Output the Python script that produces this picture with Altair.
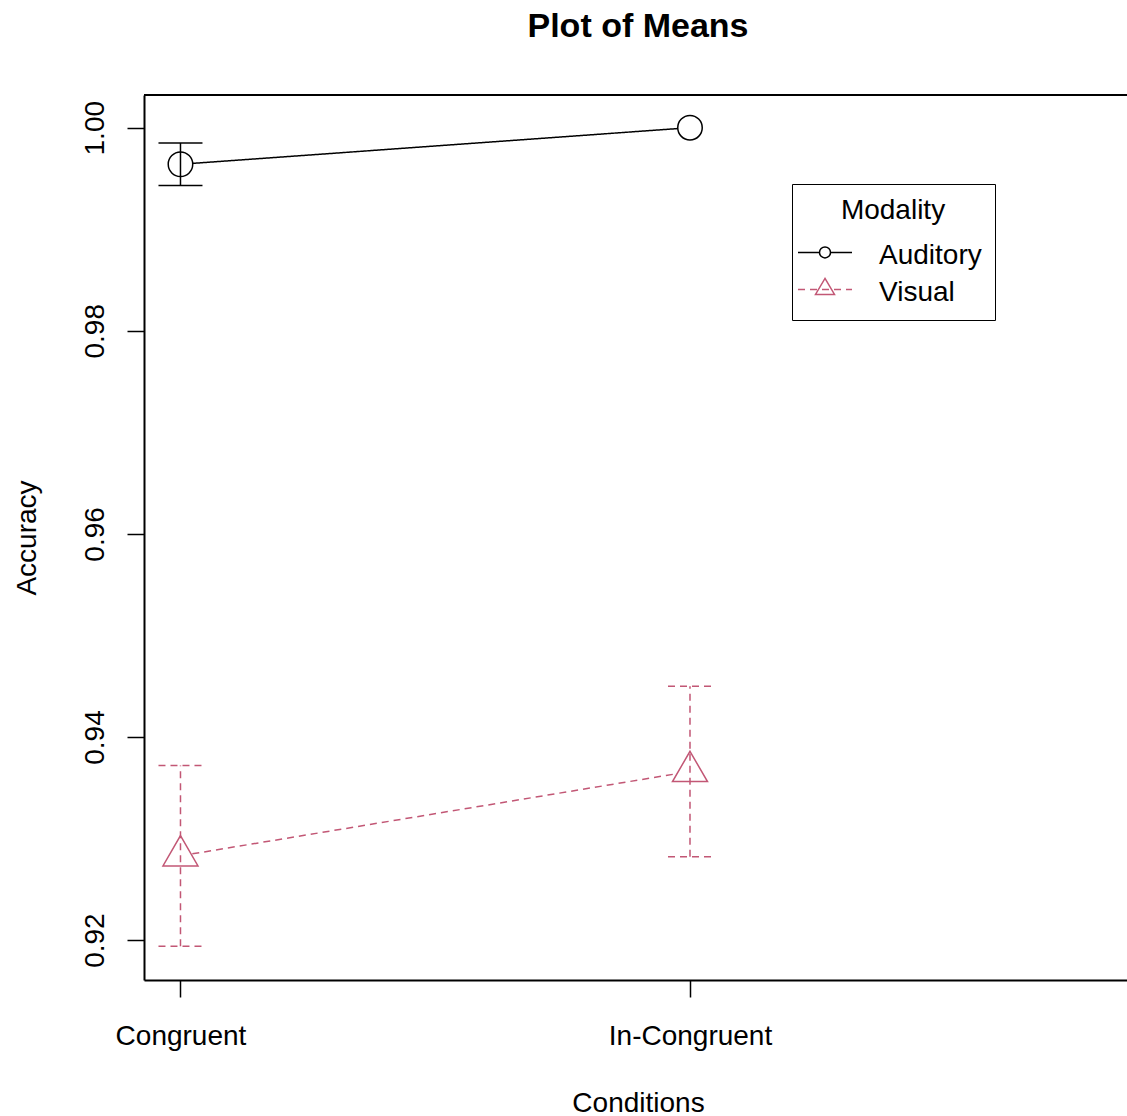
import altair as alt
import pandas as pd

# ---- values ---------------------------------------------------------------
CONDITIONS = ["Congruent", "In-Congruent"]
MODALITIES = ["Auditory", "Visual"]
AUDITORY_MEAN = [0.9964, 1.0000]
AUDITORY_SE = [0.0021, 0.0]
VISUAL_MEAN = [0.9283, 0.9366]
VISUAL_SE = [0.0089, 0.0084]
Y_TICKS = [0.92, 0.94, 0.96, 0.98, 1.00]

# ---- styling --------------------------------------------------------------
FONT = "Liberation Sans"
PINK = "#C25775"
PLOT_W, PLOT_H = 983, 885
X_RANGE = [0.9284, 2.8577]
Y_RANGE = [0.91607, 1.00322]

rows = []
for mod, means, ses in [(MODALITIES[0], AUDITORY_MEAN, AUDITORY_SE),
                        (MODALITIES[1], VISUAL_MEAN, VISUAL_SE)]:
    for i, (cond, mu, se) in enumerate(zip(CONDITIONS, means, ses)):
        rows.append({"Modality": mod, "Condition": cond, "pos": i + 1,
                     "mean": mu, "lo": mu - se, "hi": mu + se})
df = pd.DataFrame(rows)

# marker shapes (triangle centred on its centroid, like R's pch 2)
TRI_MARK = "M0,-1.65L1.429,0.825L-1.429,0.825Z"

# legend keys: line with symbol, in units of sqrt(symbolSize)/2
KEY_A = ("M-5.4,-0.72H-1.1M1.1,-0.72H5.4"
         "M1.1,-0.72A1.1,1.1 0 1,1 -1.1,-0.72A1.1,1.1 0 1,1 1.1,-0.72")
KEY_V = ("M-5.4,-0.72H-4.0M-3.0,-0.72H-1.6M-0.6,-0.72H0.8M1.8,-0.72H3.2M4.2,-0.72H5.4"
         "M0,-2.92L1.9,0.28L-1.9,0.28Z")

legend = alt.Legend(
    title="Modality", orient="none", legendX=648, legendY=89,
    padding=13, strokeColor="black",
    titleFont=FONT, titleFontSize=28, titleFontWeight="normal",
    titleColor="black", titleAnchor="middle", titlePadding=17,
    labelFont=FONT, labelFontSize=28, labelColor="black",
    labelOffset=40, symbolOffset=6, symbolSize=100, symbolStrokeWidth=1.5,
    symbolFillColor="transparent", rowPadding=5,
    symbolType=alt.ExprRef(
        expr=f"datum.value === '{MODALITIES[0]}' ? '{KEY_A}' : '{KEY_V}'"),
)

color = alt.Color("Modality:N", scale=alt.Scale(domain=MODALITIES, range=["black", PINK]),
                  legend=legend)
# marker and dash keys use their own data-driven scales (sorted like MODALITIES),
# so they stay out of the colour legend
dash = alt.StrokeDash("dash_key:N", scale=alt.Scale(range=[[1, 0], [7, 5]]),
                      legend=None)
shape = alt.Shape("marker:N", scale=alt.Scale(range=["circle", TRI_MARK]),
                  legend=None)

label_expr = "[" + ",".join(f"'{c}'" for c in CONDITIONS) + "][round(datum.value) - 1]"

x_axis = alt.Axis(
    values=[1, 2], labelExpr=label_expr, title="Conditions",
    titleX=494, titleY=131, titleBaseline="alphabetic", titleAlign="center",
    titleFont=FONT, titleFontSize=28, titleFontWeight="normal", titleColor="black",
    labelFont=FONT, labelFontSize=28, labelColor="black",
    labelBaseline="alphabetic", labelPadding=47, labelFlush=False, labelOverlap=False,
    tickSize=17, tickWidth=1.5, tickColor="black",
    domainColor="black", domainWidth=2, grid=False,
)
y_axis = alt.Axis(
    values=Y_TICKS, format=".2f", title="Accuracy",
    titleX=-109, titleY=PLOT_H / 2, titleAngle=270, titleBaseline="alphabetic",
    titleAlign="center",
    titleFont=FONT, titleFontSize=28, titleFontWeight="normal", titleColor="black",
    labelFont=FONT, labelFontSize=28, labelColor="black",
    labelAngle=270, labelAlign="center", labelBaseline="alphabetic",
    labelPadding=23.5, labelFlush=False, labelOverlap=False,
    tickSize=17, tickWidth=1.5, tickColor="black",
    domainColor="black", domainWidth=2, grid=False,
)

x_scale = alt.Scale(domain=X_RANGE, nice=False, zero=False)
y_scale = alt.Scale(domain=Y_RANGE, nice=False, zero=False)

X = alt.X("pos:Q", scale=x_scale, axis=x_axis)
base = alt.Chart(df).transform_calculate(
    marker="datum.Modality", dash_key="datum.Modality"
)

# top edge of the plot box
frame = pd.DataFrame({"x": [X_RANGE[0]], "x2": [X_RANGE[1]], "y": [Y_RANGE[1]]})
top_edge = alt.Chart(frame).mark_rule(color="black", strokeWidth=2).encode(
    x=alt.X("x:Q", scale=x_scale, axis=x_axis), x2="x2:Q",
    y=alt.Y("y:Q", scale=y_scale, axis=y_axis),
)

lines = base.mark_line(strokeWidth=1.5).encode(
    x=X, y=alt.Y("mean:Q", scale=y_scale, axis=y_axis),
    color=color, strokeDash=dash, detail="Modality:N",
)

points = base.mark_point(fill="white", fillOpacity=1, strokeWidth=1.5,
                         size=600, opacity=1).encode(
    x=X, y=alt.Y("mean:Q", scale=y_scale, axis=y_axis),
    color=color, shape=shape,
)

bars = base.transform_filter("datum.hi > datum.lo")
err = bars.mark_rule(strokeWidth=1.5).encode(
    x=X, y=alt.Y("lo:Q", scale=y_scale, axis=y_axis), y2="hi:Q",
    color=color, strokeDash=dash,
)
cap_hi = bars.mark_rule(strokeWidth=1.5, xOffset=-22, x2Offset=22).encode(
    x=X, x2="pos:Q", y=alt.Y("hi:Q", scale=y_scale, axis=y_axis),
    color=color, strokeDash=dash,
)
cap_lo = bars.mark_rule(strokeWidth=1.5, xOffset=-22, x2Offset=22).encode(
    x=X, x2="pos:Q", y=alt.Y("lo:Q", scale=y_scale, axis=y_axis),
    color=color, strokeDash=dash,
)

chart = alt.layer(top_edge, lines, points, err, cap_hi, cap_lo).properties(
    width=PLOT_W, height=PLOT_H,
    title=alt.TitleParams("Plot of Means", font=FONT, fontSize=34, fontWeight="bold",
                          color="black", anchor="middle", dx=2.5,
                          baseline="alphabetic", offset=23),
    padding={"left": 144, "top": 95, "right": 0, "bottom": 136},
    autosize=alt.AutoSizeParams(type="none"),
    background="white",
).configure_view(stroke=None)

chart.save("out.html", embed_options={"renderer": "svg", "actions": False})
